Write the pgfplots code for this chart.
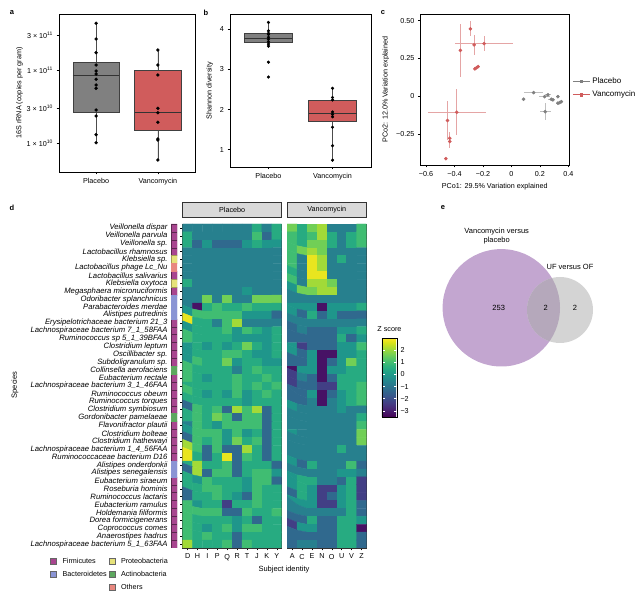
\documentclass[border=0pt]{standalone}
\usepackage{fontspec}
\setmainfont{Liberation Sans}
\usepackage{pgfplots}
\usepackage{pgfplotstable}
\pgfplotsset{compat=1.18}
\usepgfplotslibrary{statistics}

\definecolor{plac}{HTML}{808080}
\definecolor{vanc}{HTML}{D05C5C}
\definecolor{firm}{HTML}{A8458F}
\definecolor{bact}{HTML}{8A94D4}
\definecolor{prot}{HTML}{E6E27A}
\definecolor{acti}{HTML}{5DA85F}
\definecolor{othr}{HTML}{E8877F}
\definecolor{stripgray}{HTML}{D9D9D9}
\definecolor{venL}{HTML}{C3A6D0}
\definecolor{venR}{HTML}{D4D4D4}
\definecolor{venO}{HTML}{B5A8BB}

\newcommand{\fs}{\fontsize{7.2}{8.4}\selectfont}

\pgfplotsset{
  gg/.style={scale only axis, axis line style={black, line width=0.5pt},
    tick pos=left, tick align=outside, major tick length=2.5pt,
    tick style={black, line width=0.45pt},
    ticklabel style={font=\fs}, label style={font=\fs},
    /pgf/number format/assume math mode=true},
  heat/.style={gg, y dir=reverse, ymin=0.5, ymax=41.5, enlargelimits=false,
    colormap name=viridis, point meta min=-3.5, point meta max=3.0,
    axis line style={black!80, line width=0.5pt},
    title style={at={(0.5,1)}, anchor=south, yshift=0.8pt, fill=stripgray,
      draw=black!80, line width=0.5pt, minimum height=15pt, inner sep=0pt, font=\fs}},
  ggbox/.style={boxplot/draw direction=y,
    boxplot/every median/.style={line width=1pt, black!80},
    boxplot/every whisker/.style={black!70, line width=0.6pt}},
}

% Z scores, one line per species (rows top to bottom), subjects left to right
\pgfplotstableread[row sep=\\]{
z\\
-0.7\\ -0.7\\ -0.7\\ -0.7\\ -0.7\\ -0.7\\ -0.7\\ 0.5\\ -0.7\\ 0.5\\
0.5\\ -0.7\\ -0.7\\ -0.7\\ -0.7\\ -0.7\\ -0.7\\ 1.0\\ -1.3\\ 0.5\\
0.5\\ -1.3\\ -0.1\\ -1.3\\ -1.3\\ -1.3\\ -0.1\\ 0.5\\ -0.1\\ -0.1\\
-0.7\\ -0.7\\ -0.7\\ -0.7\\ -0.7\\ -0.7\\ -0.7\\ -0.7\\ -0.7\\ -0.7\\
-0.7\\ -0.7\\ -0.7\\ -0.7\\ -0.7\\ -0.7\\ -0.7\\ -0.7\\ -0.7\\ -0.7\\
-0.7\\ -0.7\\ -0.7\\ -0.7\\ -0.7\\ -0.7\\ -0.7\\ -0.7\\ -0.7\\ -0.7\\
-0.7\\ -0.7\\ -0.7\\ -0.7\\ -0.7\\ -0.7\\ -0.7\\ -0.7\\ -0.7\\ -0.7\\
0.5\\ -0.7\\ -0.7\\ -0.7\\ -0.7\\ -0.7\\ -0.7\\ -0.7\\ -0.7\\ -0.7\\
-0.7\\ -0.7\\ -0.7\\ -0.7\\ -0.7\\ -0.7\\ -0.1\\ -0.7\\ -0.7\\ -0.7\\
-0.7\\ -0.7\\ 1.6\\ -0.7\\ 1.6\\ -0.7\\ -0.7\\ 1.6\\ 1.6\\ 1.6\\
-0.7\\ -3.2\\ 0.5\\ 1.0\\ 0.5\\ 0.5\\ 1.0\\ 0.5\\ 0.5\\ 0.5\\
-0.1\\ 1.0\\ 1.0\\ 1.0\\ 1.0\\ 1.0\\ -0.1\\ -0.1\\ -0.1\\ -1.3\\
2.8\\ 0.5\\ 0.5\\ -0.7\\ 1.0\\ 2.1\\ -0.7\\ -0.7\\ -0.7\\ -0.7\\
-0.1\\ 0.5\\ 0.5\\ 0.5\\ 1.0\\ -0.1\\ 1.0\\ 0.5\\ -0.1\\ 0.5\\
1.0\\ 0.5\\ 0.5\\ 0.5\\ 0.5\\ -0.1\\ -0.1\\ -0.1\\ -0.1\\ 0.5\\
-0.1\\ 0.5\\ -0.1\\ 0.5\\ -0.1\\ 0.5\\ 1.6\\ 0.5\\ -0.1\\ 0.5\\
-0.1\\ 0.5\\ 0.5\\ 0.5\\ 1.0\\ 1.0\\ 0.5\\ -0.1\\ -0.1\\ 0.5\\
-0.1\\ 1.0\\ 0.5\\ 0.5\\ 1.6\\ -0.1\\ 0.5\\ 0.5\\ -0.1\\ -0.1\\
1.0\\ 0.5\\ 0.5\\ 0.5\\ 0.5\\ -0.7\\ 0.5\\ 1.0\\ 0.5\\ 0.5\\
1.0\\ 0.5\\ -0.1\\ 0.5\\ 0.5\\ 1.0\\ 0.5\\ 0.5\\ 1.0\\ 0.5\\
0.5\\ 0.5\\ 0.5\\ 0.5\\ 0.5\\ 1.0\\ 0.5\\ 1.0\\ 0.5\\ 1.0\\
1.0\\ 0.5\\ -0.1\\ 0.5\\ -0.1\\ 1.0\\ -0.1\\ 0.5\\ 1.0\\ 0.5\\
0.5\\ 0.5\\ 0.5\\ 0.5\\ 0.5\\ 0.5\\ -0.1\\ 0.5\\ 0.5\\ 0.5\\
-1.3\\ 1.0\\ 0.5\\ 1.0\\ -1.3\\ 2.1\\ 1.0\\ 2.1\\ -1.3\\ 0.5\\
0.5\\ 1.0\\ 0.5\\ 1.6\\ 1.0\\ -1.3\\ 1.0\\ 1.0\\ -1.3\\ 0.5\\
-0.7\\ 1.0\\ 0.5\\ -0.1\\ 1.0\\ 1.0\\ 1.0\\ 1.0\\ -1.3\\ 0.5\\
-0.1\\ 1.0\\ 1.0\\ 1.0\\ -0.1\\ 1.0\\ -0.1\\ 0.5\\ -1.3\\ 0.5\\
-1.3\\ 1.0\\ 0.5\\ 1.0\\ -0.1\\ 1.6\\ 0.5\\ 1.0\\ -1.3\\ 0.5\\
2.1\\ 1.0\\ -1.3\\ 1.0\\ -1.3\\ -1.3\\ 2.1\\ 0.5\\ -1.3\\ 0.5\\
2.8\\ 0.5\\ -1.3\\ 0.5\\ 2.8\\ -1.3\\ 1.0\\ 0.5\\ -1.3\\ 0.5\\
0.5\\ 2.1\\ 0.5\\ 0.5\\ 1.0\\ -1.3\\ 0.5\\ 0.5\\ 0.5\\ -1.3\\
-1.3\\ 2.1\\ -1.3\\ 1.0\\ 1.0\\ -1.3\\ 0.5\\ 1.0\\ 1.0\\ -0.1\\
0.5\\ -0.1\\ 1.0\\ 0.5\\ 0.5\\ 0.5\\ -0.1\\ 1.0\\ 1.0\\ -1.3\\
0.5\\ 0.5\\ 1.0\\ 1.0\\ 0.5\\ 0.5\\ -0.1\\ 1.0\\ 0.5\\ 0.5\\
-1.3\\ 0.5\\ 0.5\\ 1.0\\ 0.5\\ -0.1\\ -1.3\\ 1.0\\ 0.5\\ 0.5\\
1.0\\ -0.1\\ 0.5\\ 0.5\\ -2.3\\ 0.5\\ 0.5\\ 1.0\\ 0.5\\ 0.5\\
1.0\\ 1.0\\ 1.0\\ 1.0\\ -1.3\\ -1.3\\ 1.0\\ 0.5\\ 0.5\\ 1.0\\
1.0\\ 0.5\\ 0.5\\ 0.5\\ 0.5\\ -0.1\\ 0.5\\ -1.3\\ 0.5\\ 0.5\\
1.0\\ 0.5\\ -0.1\\ 0.5\\ 1.0\\ -0.1\\ 1.0\\ 1.0\\ 0.5\\ 0.5\\
1.0\\ 0.5\\ 1.0\\ 0.5\\ 0.5\\ -1.3\\ 0.5\\ 0.5\\ 0.5\\ 0.5\\
2.1\\ 0.5\\ 0.5\\ 0.5\\ 1.0\\ -1.3\\ 1.0\\ 0.5\\ 0.5\\ 0.5\\
}\placebo

\pgfplotstableread[row sep=\\]{
z\\
1.6\\ 0.5\\ 1.6\\ 2.1\\ -0.7\\ -0.7\\ -0.7\\ 1.0\\
1.0\\ 0.5\\ 1.0\\ 2.1\\ 0.5\\ -0.7\\ 0.5\\ 1.0\\
1.0\\ 0.5\\ 1.6\\ 1.6\\ 0.5\\ -0.7\\ 0.5\\ 1.0\\
1.0\\ 1.6\\ 2.1\\ 1.6\\ -0.7\\ -0.7\\ -0.7\\ -0.7\\
1.0\\ -0.7\\ 2.8\\ 2.1\\ -0.7\\ 0.5\\ -0.7\\ -0.7\\
1.0\\ -0.7\\ 2.8\\ 2.1\\ -0.7\\ -0.7\\ -0.7\\ -0.7\\
0.5\\ -0.7\\ 2.8\\ 2.8\\ -0.7\\ -0.7\\ -0.7\\ -0.7\\
1.0\\ -0.7\\ 2.1\\ 2.1\\ 1.6\\ -0.7\\ -0.7\\ -0.7\\
-0.1\\ 1.6\\ 1.6\\ 2.1\\ 2.1\\ -0.7\\ -0.7\\ -0.7\\
-0.7\\ -0.7\\ -0.7\\ -0.7\\ -0.7\\ -0.7\\ -0.7\\ -0.7\\
-0.1\\ -0.1\\ -0.1\\ -3.2\\ -0.1\\ -0.1\\ -0.1\\ 0.5\\
-0.1\\ -1.3\\ 0.5\\ -1.3\\ -0.1\\ -1.3\\ -1.3\\ -1.3\\
-0.7\\ -0.7\\ -0.7\\ -0.7\\ -0.7\\ -0.7\\ -0.7\\ -0.7\\
-1.3\\ -0.7\\ -1.3\\ -1.3\\ -1.3\\ -0.1\\ -0.1\\ 0.5\\
-1.3\\ -1.3\\ -1.3\\ -1.3\\ -1.3\\ 0.5\\ -1.3\\ -0.1\\
-0.1\\ -2.3\\ -1.3\\ -1.3\\ -1.3\\ -0.1\\ -0.1\\ 1.0\\
-0.1\\ -1.3\\ -0.1\\ -3.2\\ -3.2\\ -0.1\\ -0.1\\ 0.5\\
-1.3\\ -1.3\\ -0.1\\ -3.2\\ -1.3\\ -0.1\\ 1.6\\ 0.5\\
-3.2\\ -0.1\\ -0.1\\ -3.2\\ -0.1\\ -0.1\\ 0.5\\ 0.5\\
-2.3\\ -0.7\\ -1.3\\ -3.2\\ -1.3\\ 0.5\\ 0.5\\ 0.5\\
-2.3\\ -1.3\\ -1.3\\ -2.3\\ -2.3\\ 0.5\\ 0.5\\ 1.0\\
-1.3\\ -1.3\\ -0.1\\ -3.2\\ -1.3\\ -0.1\\ 0.5\\ 1.0\\
-1.3\\ -1.3\\ -0.7\\ -3.2\\ -0.7\\ -0.1\\ 0.5\\ 1.0\\
-0.1\\ -0.7\\ -0.7\\ -0.7\\ -0.7\\ -0.1\\ -0.7\\ -0.7\\
-0.7\\ -0.7\\ -0.7\\ -0.7\\ -0.7\\ -0.7\\ -0.7\\ 0.5\\
-0.7\\ -0.7\\ -0.7\\ -0.7\\ -0.7\\ -0.7\\ -0.7\\ 1.0\\
-0.1\\ -0.7\\ -0.7\\ -0.7\\ -0.7\\ -0.7\\ -0.7\\ 1.6\\
-0.7\\ -0.7\\ -0.7\\ -0.7\\ -0.7\\ -0.7\\ -0.7\\ 1.6\\
-0.7\\ -0.7\\ -0.7\\ -0.7\\ -0.7\\ 0.5\\ -0.7\\ -0.7\\
-0.7\\ -0.7\\ -0.7\\ -0.7\\ -0.7\\ -0.7\\ -0.7\\ -0.7\\
-0.1\\ -1.3\\ 0.5\\ -0.7\\ -0.7\\ -0.7\\ 1.0\\ -1.3\\
-0.7\\ -0.7\\ -0.7\\ -0.7\\ -0.7\\ -0.1\\ -0.1\\ -0.7\\
-0.1\\ 0.5\\ 0.5\\ -0.7\\ -0.7\\ -1.3\\ 0.5\\ -2.3\\
-0.1\\ 0.5\\ -0.1\\ -2.3\\ -2.3\\ -0.1\\ 0.5\\ -2.3\\
-1.3\\ 0.5\\ -0.1\\ -2.3\\ -1.3\\ -0.1\\ 0.5\\ -2.3\\
-0.1\\ -0.1\\ -0.1\\ -2.3\\ -2.3\\ -0.1\\ 0.5\\ -1.3\\
-0.7\\ -0.7\\ -0.7\\ -0.7\\ -0.7\\ -0.7\\ 0.5\\ -1.3\\
-1.3\\ -1.3\\ 0.5\\ -1.3\\ -1.3\\ 0.5\\ 0.5\\ -0.1\\
-2.3\\ -0.1\\ -0.1\\ -1.3\\ -1.3\\ 0.5\\ 0.5\\ -3.2\\
-1.3\\ -1.3\\ -1.3\\ -1.3\\ -1.3\\ 0.5\\ 0.5\\ -1.3\\
-1.3\\ -0.7\\ -0.7\\ -1.3\\ -1.3\\ 0.5\\ 0.5\\ -1.3\\
}\vanco

\begin{document}
\begin{tikzpicture}
\path[use as bounding box] (0,0) rectangle (640pt,593pt);

% ---------- a (y in log10 of copies per gram) ----------
\begin{axis}[gg, ggbox, at={(59pt,421pt)}, anchor=south west, width=136pt, height=158pt,
  xmin=0.4, xmax=2.6, xtick={1,2}, xticklabels={Placebo,Vancomycin},
  ymin=9.603, ymax=11.767, ytick={10,10.4771,11,11.4771},
  yticklabels={1 × 10\textsuperscript{10}, 3 × 10\textsuperscript{10}, 1 × 10\textsuperscript{11}, 3 × 10\textsuperscript{11}},
  ylabel={16S rRNA (copies per gram)}, ylabel style={yshift=-3pt}]
\addplot[boxplot prepared={draw position=1, box extend=0.75, whisker extend=0,
  lower whisker=10.004, lower quartile=10.425, median=10.918,
  upper quartile=11.110, upper whisker=11.640},
  fill=plac, draw=black!75, line width=0.7pt] coordinates {};
\addplot[boxplot prepared={draw position=2, box extend=0.75, whisker extend=0,
  lower whisker=9.767, lower quartile=10.168, median=10.42,
  upper quartile=10.99, upper whisker=11.274},
  fill=vanc, draw=black!75, line width=0.7pt] coordinates {};
\addplot[only marks, mark=*, mark size=1.5pt, black] coordinates {
  (1,11.640) (1,11.425) (1,11.237) (1,11.068) (1,10.986) (1,10.945) (1,10.873)
  (1,10.795) (1,10.749) (1,10.452) (1,10.370) (1,10.114) (1,10.004)
  (2,11.274) (2,11.068) (2,10.932) (2,10.475) (2,10.415) (2,10.284)
  (2,10.055) (2,10.041) (2,9.767)};
\end{axis}

% ---------- b ----------
\begin{axis}[gg, ggbox, at={(230pt,426pt)}, anchor=south west, width=141pt, height=153pt,
  xmin=0.4, xmax=2.6, xtick={1,2}, xticklabels={Placebo,Vancomycin},
  ymin=0.57, ymax=4.38, ytick={1,2,3,4}, ylabel={Shannon diversity}]
\addplot[boxplot prepared={draw position=1, box extend=0.75, whisker extend=0,
  lower whisker=3.58, lower quartile=3.67, median=3.78, upper quartile=3.89, upper whisker=4.17},
  fill=plac, draw=black!75, line width=0.7pt] coordinates {};
\addplot[boxplot prepared={draw position=2, box extend=0.75, whisker extend=0,
  lower whisker=0.74, lower quartile=1.70, median=1.895, upper quartile=2.24, upper whisker=2.53},
  fill=vanc, draw=black!75, line width=0.7pt] coordinates {};
\addplot[only marks, mark=*, mark size=1.4pt, black] coordinates {
  (1,4.17) (1,3.96) (1,3.90) (1,3.87) (1,3.80) (1,3.75) (1,3.69) (1,3.63) (1,3.58)
  (1,3.18) (1,2.81)
  (2,2.53) (2,2.30) (2,2.24) (2,1.94) (2,1.88) (2,1.82) (2,1.56) (2,1.10) (2,0.74)};
\end{axis}

% ---------- c ----------
\begin{axis}[gg, at={(420.3pt,428pt)}, anchor=south west, width=149pt, height=151pt,
  xmin=-0.64, xmax=0.407, ymin=-0.455, ymax=0.544,
  xtick={-0.6,-0.4,-0.2,0,0.2,0.4}, xticklabels={−0.6,−0.4,−0.2,0,0.2,0.4},
  ytick={-0.25,0,0.25,0.5}, yticklabels={−0.25,0,0.25,0.50},
  xlabel={PCo1: 29.5\% Variation explained}, ylabel={PCo2: 12.0\% Variation explained},
  legend style={at={(1.02,0.51)}, anchor=west, draw=none, fill=none,
    font=\fontsize{8}{9.5}\selectfont, row sep=2pt, inner sep=0pt},
  legend cell align=left]
\addlegendimage{plac, mark=square*, mark size=1.3pt, line width=0.8pt}
\addlegendentry{Placebo}
\addlegendimage{vanc, mark=square*, mark size=1.3pt, line width=0.8pt}
\addlegendentry{Vancomycin}
\addplot[forget plot, only marks, mark=*, mark size=1.6pt, color=plac,
  error bars/.cd, x dir=both, x explicit, y dir=both, y explicit, error mark=none,
  error bar style={color=plac!50, line width=0.8pt}] coordinates {
  (0.086,-0.020) +- (0.005,0.005)
  (0.156,0.024) +- (0.064,0.010)
  (0.234,-0.003) +- (0.040,0.010)
  (0.257,0.009) +- (0.020,0.010)
  (0.280,-0.020) +- (0.020,0.010)
  (0.292,-0.024) +- (0.015,0.010)
  (0.327,-0.003) +- (0.010,0.010)
  (0.327,-0.046) +- (0.010,0.010)
  (0.339,-0.042) +- (0.010,0.010)
  (0.351,-0.036) +- (0.010,0.010)
  (0.238,-0.102) +- (0.040,0.055)};
\addplot[forget plot, only marks, mark=*, mark size=1.6pt, color=vanc,
  error bars/.cd, x dir=both, x explicit, y dir=both, y explicit, error mark=none,
  error bar style={color=vanc!55, line width=0.8pt}] coordinates {
  (-0.288,0.446) +- (0.010,0.050)
  (-0.358,0.303) +- (0.010,0.176)
  (-0.262,0.340) +- (0.010,0.066)
  (-0.192,0.348) +- (0.205,0.052)
  (-0.257,0.181) +- (0.005,0.010)
  (-0.245,0.189) +- (0.005,0.010)
  (-0.234,0.196) +- (0.005,0.010)
  (-0.384,-0.106) +- (0.205,0.151)
  (-0.449,-0.161) +- (0.010,0.130)
  (-0.433,-0.278) +- (0.010,0.040)
  (-0.433,-0.300) +- (0.010,0.040)
  (-0.461,-0.413) +- (0.005,0.005)};
\end{axis}

% ---------- d: phylum side bar ----------
\begin{axis}[scale only axis, at={(171pt,45pt)}, anchor=south west, width=6pt, height=324pt,
  xmin=0, xmax=1, ymin=0.5, ymax=41.5, y dir=reverse, enlargelimits=false,
  axis line style={draw=none}, xtick=\empty, ytick={1,...,41}, major tick length=0pt,
  yticklabel style={font=\itshape\fontsize{7.7}{8}\selectfont},
  yticklabels={Veillonella dispar, Veillonella parvula, Veillonella sp., Lactobacillus rhamnosus,
    Klebsiella sp., Lactobacillus phage Lc\_Nu, Lactobacillus salivarius, Klebsiella oxytoca,
    Megasphaera micronuciformis, Odoribacter splanchnicus, Parabacteroides merdae,
    Alistipes putredinis, Erysipelotrichaceae bacterium 21\_3, Lachnospiraceae bacterium 7\_1\_58FAA,
    Ruminococcus sp 5\_1\_39BFAA, Clostridium leptum, Oscillibacter sp., Subdoligranulum sp.,
    Collinsella aerofaciens, Eubacterium rectale, Lachnospiraceae bacterium 3\_1\_46FAA,
    Ruminococcus obeum, Ruminococcus torques, Clostridium symbiosum, Gordonibacter pamelaeae,
    Flavonifractor plautii, Clostridium bolteae, Clostridium hathewayi,
    Lachnospiraceae bacterium 1\_4\_56FAA, Ruminococcaceae bacterium D16, Alistipes onderdonkii,
    Alistipes senegalensis, Eubacterium siraeum, Roseburia hominis, Ruminococcus lactaris,
    Eubacterium ramulus, Holdemania filiformis, Dorea formicigenerans, Coprococcus comes,
    Anaerostipes hadrus, Lachnospiraceae bacterium 5\_1\_63FAA}]
\addplot[xbar, bar width=1, bar shift=0pt, fill=firm, draw=firm!55!black, line width=0.4pt]
  coordinates {(1,1) (1,2) (1,3) (1,4) (1,7) (1,9) (1,13) (1,14) (1,15) (1,16) (1,17) (1,18)
  (1,20) (1,21) (1,22) (1,23) (1,24) (1,26) (1,27) (1,28) (1,29) (1,30) (1,33) (1,34) (1,35)
  (1,36) (1,37) (1,38) (1,39) (1,40) (1,41)};
\addplot[xbar, bar width=1, bar shift=0pt, fill=bact, draw=bact]
  coordinates {(1,10) (1,11) (1,12) (1,31) (1,32)};
\addplot[xbar, bar width=1, bar shift=0pt, fill=prot, draw=prot!70!black, line width=0.3pt]
  coordinates {(1,5) (1,8)};
\addplot[xbar, bar width=1, bar shift=0pt, fill=acti, draw=acti]
  coordinates {(1,19) (1,25)};
\addplot[xbar, bar width=1, bar shift=0pt, fill=othr, draw=othr]
  coordinates {(1,6)};
\end{axis}

% phylum legend
\begin{axis}[scale only axis, hide axis, at={(50pt,37pt)}, anchor=north west,
  width=10pt, height=10pt, xmin=0, xmax=1, ymin=0, ymax=1,
  legend columns=2, legend cell align=left,
  legend style={at={(0,1)}, anchor=north west, draw=none, fill=none, inner sep=0pt,
    font=\fs, row sep=2.2pt, /tikz/every odd column/.style={column sep=4pt}},
  legend image code/.code={\draw[#1] (0pt,-2.8pt) rectangle (6pt,3pt);}]
\addlegendimage{fill=firm, draw=black!60}\addlegendentry{Firmicutes}
\addlegendimage{fill=prot, draw=black!60}\addlegendentry{Proteobacteria}
\addlegendimage{fill=bact, draw=black!60}\addlegendentry{Bacteroidetes}
\addlegendimage{fill=acti, draw=black!60}\addlegendentry{Actinobacteria}
\addlegendimage{empty legend}\addlegendentry{}
\addlegendimage{fill=othr, draw=black!60}\addlegendentry{Others}
\end{axis}

% heatmap placebo
\begin{axis}[heat, at={(182.7pt,45pt)}, anchor=south west, width=99pt, height=324pt,
  xmin=0.5, xmax=10.5, xtick={1,...,10}, xticklabels={D,H,I,P,Q,R,T,J,K,Y},
  ytick={1,...,41}, yticklabels={}, title=Placebo, title style={minimum width=99pt}]
\addplot[matrix plot*, mesh/cols=10, point meta=explicit]
  table[x index=0, y index=0, x expr={mod(\coordindex,10)+1}, y expr={floor(\coordindex/10)+1},
    meta=z] {\placebo};
\end{axis}

% heatmap vancomycin
\begin{axis}[heat, at={(287.2pt,45pt)}, anchor=south west, width=79.2pt, height=324pt,
  xmin=0.5, xmax=8.5, xtick={1,...,8}, xticklabels={A,C,E,N,O,U,V,Z},
  ytick=\empty, title=Vancomycin, title style={minimum width=79.2pt},
  colorbar, colorbar shift/.style={},
  colorbar style={at={(parent axis.right of north east)}, anchor=north west,
    xshift=15pt, yshift=-114pt, scale only axis, width=15pt, height=79pt,
    ytick={-3,-2,-1,0,1,2}, yticklabels={−3,−2,−1,0,1,2},
    tick align=inside, ytick pos=both, yticklabel pos=right, major tick length=3pt,
    tick style={white, line width=0.6pt}, axis line style={black, line width=0.5pt},
    yticklabel style={font=\fs}, title={Z score}, title style={font=\fs, yshift=-3pt}}]
\addplot[matrix plot*, mesh/cols=8, point meta=explicit]
  table[x index=0, y index=0, x expr={mod(\coordindex,8)+1}, y expr={floor(\coordindex/8)+1},
    meta=z] {\vanco};
\end{axis}

\node[font=\fontsize{7.5}{9}\selectfont] at (284pt,23pt) {Subject identity};
\node[font=\fontsize{7.5}{9}\selectfont, rotate=90] at (15pt,208pt) {Species};

% ---------- e ----------
\fill[venL] (501.3pt,285.2pt) circle (58.7pt);
\fill[venR] (560pt,283pt) circle (33pt);
\begin{scope}
  \clip (501.3pt,285.2pt) circle (58.7pt);
  \fill[venO] (560pt,283pt) circle (33pt);
\end{scope}
\node[font=\fontsize{7.5}{9}\selectfont, align=center] at (496.7pt,356.5pt) {Vancomycin versus\\placebo};
\node[font=\fontsize{7.5}{9}\selectfont] at (570pt,325.7pt) {UF versus OF};
\node[font=\fontsize{7.5}{9}\selectfont] at (498.7pt,284.7pt) {253};
\node[font=\fontsize{7.5}{9}\selectfont] at (545.7pt,284.7pt) {2};
\node[font=\fontsize{7.5}{9}\selectfont] at (575pt,284.7pt) {2};

% panel letters
\begin{scope}[every node/.style={font=\bfseries\fontsize{7.5}{9}\selectfont}]
\node at (12pt,580pt) {a};
\node at (206pt,580pt) {b};
\node at (383pt,580pt) {c};
\node at (12pt,385pt) {d};
\node at (443pt,385pt) {e};
\end{scope}
\end{tikzpicture}
\end{document}
